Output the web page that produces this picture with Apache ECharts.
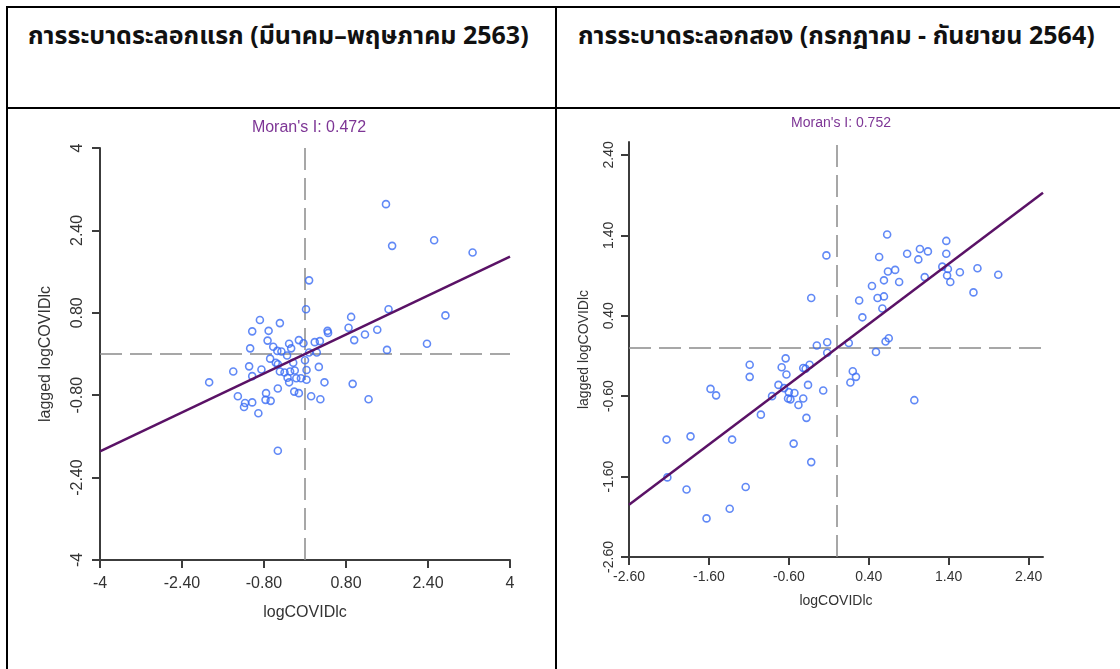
<!DOCTYPE html>
<html>
<head>
<meta charset="utf-8">
<script src="https://cdn.jsdelivr.net/npm/echarts@6/dist/echarts.min.js"></script>
<style>
  body { margin:0; background:#fff; }
  #page { position:relative; width:1120px; height:669px; overflow:hidden; }
  .ln { position:absolute; background:#000; }
  .head { position:absolute; top:17px; font-family:Tahoma, "Noto Sans Thai", "Noto Sans", "DejaVu Sans", sans-serif;
          font-size:25px; font-weight:bold; color:#111; white-space:nowrap; }
  #chart { position:absolute; left:0; top:0; width:1120px; height:669px; }
</style>
</head>
<body>
<div id="page">
  <div class="ln" style="left:6px;top:6px;width:1114px;height:2px"></div>
  <div class="ln" style="left:6px;top:107px;width:1114px;height:2px"></div>
  <div class="ln" style="left:6px;top:6px;width:2px;height:663px"></div>
  <div class="ln" style="left:555px;top:6px;width:2px;height:663px"></div>
  <div class="head" style="left:28px">การระบาดระลอกแรก (มีนาคม–พฤษภาคม 2563)</div>
  <div class="head" style="left:578px">การระบาดระลอกสอง (กรกฎาคม - กันยายน 2564)</div>
  <div id="chart"></div>
</div>
<script>
// ระลอกแรก
var wave1X = [1.58,1.70,2.52,3.27,0.08,2.74,1.63,0.02,0.90,0.85,1.17,1.41,0.96,0.44,0.45,2.38,1.60,
  -0.88,-0.49,-1.03,-0.71,-0.73,-1.07,-0.62,-0.54,-0.46,-0.31,-0.27,-0.12,-0.03,0.19,0.29,0.08,0.23,
  -0.35,-0.68,-0.57,-0.53,-0.23,0.00,-1.40,-1.09,-1.03,-0.85,-0.49,-0.40,-0.29,-0.20,0.03,0.27,
  -0.34,-0.17,-0.08,0.03,-0.31,-1.87,0.38,0.93,-0.53,-0.76,-0.21,-0.12,-1.31,0.12,-0.77,-0.67,0.30,1.24,
  -1.17,-1.03,-1.19,-0.91,-0.53];
var wave1Y = [2.91,2.10,2.21,1.97,1.43,0.75,0.87,0.87,0.72,0.51,0.38,0.47,0.27,0.45,0.41,0.20,0.08,
  0.66,0.60,0.44,0.45,0.26,0.11,0.14,0.06,0.05,0.20,0.11,0.27,0.21,0.23,0.25,0.03,0.03,
  -0.03,-0.09,-0.17,-0.20,-0.17,-0.12,-0.34,-0.24,-0.43,-0.30,-0.34,-0.36,-0.34,-0.32,-0.31,-0.25,
  -0.46,-0.47,-0.47,-0.50,-0.55,-0.55,-0.55,-0.58,-0.67,-0.76,-0.73,-0.76,-0.82,-0.82,-0.89,-0.91,-0.88,-0.88,
  -0.95,-0.94,-1.03,-1.15,-1.88];
var fit1 = [[-4, -1.89], [4, 1.89]];
var ticks1 = [-4, -2.4, -0.8, 0.8, 2.4, 4];
var labels1 = ['-4', '-2.40', '-0.80', '0.80', '2.40', '4'];

// ระลอกสอง
var wave2X = [0.63,-0.13,0.53,0.88,1.04,1.14,1.02,1.37,1.37,1.32,1.39,1.38,1.42,1.54,1.76,2.02,1.71,
  0.64,0.73,0.59,0.78,1.10,0.44,-0.32,0.28,0.51,0.59,0.57,0.32,-0.25,-0.12,0.15,0.61,0.65,0.49,-0.12,-0.64,
  -1.09,-1.09,-0.69,-0.63,-0.42,-0.39,-0.34,-0.36,-0.17,-0.73,-0.66,-0.81,-0.60,-0.53,-0.61,-0.58,-0.42,
  -0.48,-0.38,-0.95,-1.58,-1.51,-2.13,-1.83,-1.31,-0.54,-0.32,-2.12,-1.88,-1.14,-1.34,-1.63,0.97,0.17,0.20,0.24];
var wave2Y = [1.41,1.15,1.13,1.17,1.23,1.20,1.10,1.33,1.17,1.01,0.98,0.90,0.82,0.94,0.99,0.91,0.69,
  0.95,0.97,0.84,0.82,0.88,0.77,0.62,0.59,0.62,0.64,0.49,0.38,0.03,0.07,0.06,0.08,0.12,-0.05,-0.06,-0.13,
  -0.21,-0.36,-0.24,-0.33,-0.25,-0.26,-0.21,-0.46,-0.53,-0.46,-0.50,-0.60,-0.55,-0.56,-0.63,-0.64,-0.63,
  -0.71,-0.87,-0.83,-0.51,-0.59,-1.14,-1.10,-1.14,-1.19,-1.42,-1.61,-1.76,-1.73,-2.00,-2.12,-0.65,-0.43,-0.29,-0.36];
var fit2 = [[-2.6, -1.95], [2.58, 1.93]];
var ticks2 = [-2.6, -1.6, -0.6, 0.4, 1.4, 2.4];
var labels2 = ['-2.60', '-1.60', '-0.60', '0.40', '1.40', '2.40'];

var morans = ["Moran's I: 0.472", "Moran's I: 0.752"];
var xName = 'logCOVIDlc';
var yName = 'lagged logCOVIDlc';

var FONT = '"Liberation Sans", Arial, sans-serif';
var AXIS = '#3c3c3c';

function zip(xs, ys) {
	var out = [];
	for (var i = 0; i < xs.length; i++) out.push([xs[i], ys[i]]);
	return out;
}

//idx: grid, fs: font size of that panel, mg: label margin
function makeAxis(idx, ticks, labels, isY, min, max, nameGap, fs, mg) {
	return {
		type: 'value', gridIndex: idx, min: min, max: max,
		name: isY ? yName : xName, nameLocation: 'middle', nameGap: nameGap,
		nameTextStyle: { fontFamily: FONT, fontSize: fs, color: '#333' },
		axisLine: { show: true, onZero: false, lineStyle: { color: AXIS, width: 2 } },
		axisTick: { show: true, length: 8, customValues: ticks, lineStyle: { color: AXIS, width: 2 } },
		axisLabel: {
			customValues: ticks, margin: mg, rotate: isY ? 90 : 0,
			fontFamily: FONT, fontSize: fs, color: '#333',
			formatter: function (v) {
				for (var i = 0; i < ticks.length; i++) if (Math.abs(ticks[i] - v) < 1e-6) return labels[i];
				return '';
			}
		},
		splitLine: { show: false }
	};
}

function panelSeries(idx, xs, ys, fit) {
	return [
		{
			type: 'scatter', xAxisIndex: idx, yAxisIndex: idx, z: 3,
			data: zip(xs, ys), symbol: 'circle', symbolSize: 7,
			itemStyle: { color: 'rgba(0,0,0,0)', borderColor: '#3a6cf4', borderWidth: 1.6 }
		},
		{
			type: 'line', xAxisIndex: idx, yAxisIndex: idx, z: 4,
			data: fit, symbol: 'none',
			lineStyle: { color: '#5a1266', width: 2.5 },
			markLine: {
				silent: true, symbol: 'none', label: { show: false }, z: 2,
				lineStyle: { type: [22, 8], color: '#8a8a8a', width: 1.5 },
				data: [{ xAxis: 0 }, { yAxis: 0 }]
			}
		}
	];
}

var chart = echarts.init(document.getElementById('chart'));
chart.setOption({
	animation: false,
	backgroundColor: 'transparent',
	title: [
		{ text: morans[0], left: 304, top: 115, textAlign: 'center',
		  textStyle: { fontFamily: FONT, fontSize: 16, fontWeight: 'normal', color: '#7d3595' } },
		{ text: morans[1], left: 836, top: 111, textAlign: 'center',
		  textStyle: { fontFamily: FONT, fontSize: 14, fontWeight: 'normal', color: '#7d3595' } }
	],
	grid: [
		{ left: 100, top: 148, width: 410, height: 412 },
		{ left: 629, top: 142, width: 414, height: 415 }
	],
	xAxis: [
		makeAxis(0, ticks1, labels1, false, -4, 4, 45, 16, 16),
		makeAxis(1, ticks2, labels2, false, -2.6, 2.58, 37, 14, 13)
	],
	yAxis: [
		makeAxis(0, ticks1, labels1, true, -4, 4, 46, 16, 14),
		makeAxis(1, ticks2, labels2, true, -2.6, 2.56, 38, 14, 13)
	],
	series: panelSeries(0, wave1X, wave1Y, fit1).concat(panelSeries(1, wave2X, wave2Y, fit2))
});
</script>
</body>
</html>
